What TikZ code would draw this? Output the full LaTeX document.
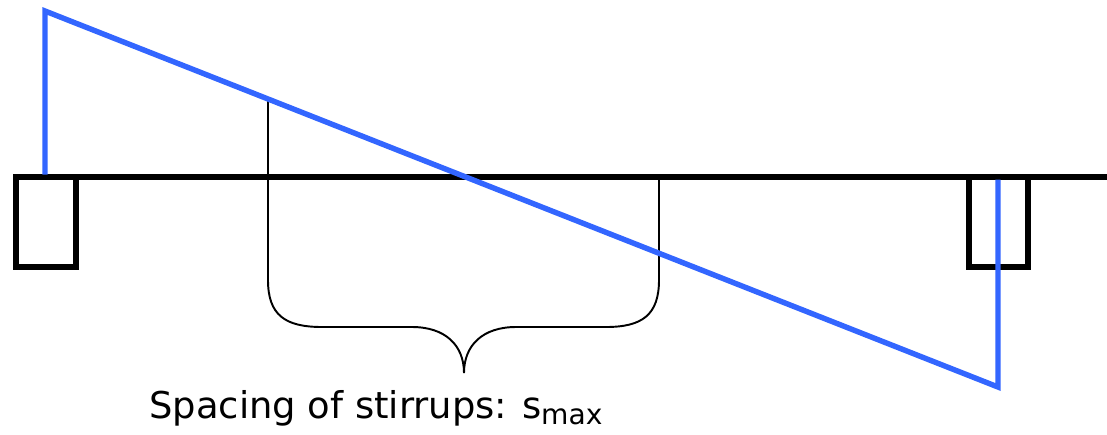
\documentclass[tikz,border=0pt]{standalone}
\usepackage{fontspec}
\setmainfont{DejaVu Sans}
\usetikzlibrary{positioning,calc}
\definecolor{ShearBlue}{RGB}{51,102,255}
\tikzset{beam/.style={draw=black,line width=3pt}, support/.style={draw=black,line width=3pt}, shear/.style={draw=ShearBlue,line width=3.1pt,line join=miter}, brace/.style={draw=black,line width=1.1pt}}

\begin{document}
\begin{tikzpicture}[x=0.02cm,y=-0.02cm]
\useasboundingbox (0,0) rectangle (1107,434);
% beam and supports
\coordinate (bl) at (14,177);
\coordinate (br) at (1107,177);
\draw[beam] (bl) -- (br);
\draw[support] (16,177) rectangle (76,267);
\draw[support] (969,177) rectangle (1028,267);
% brace
\coordinate (ba) at (268,99);
\coordinate (bb) at (659,177);
\coordinate (tip) at (464,373);
\draw[brace] (ba) -- (268,280) .. controls (268,315) and (285,327) .. (322,327) -- (412,327) .. controls (445,327) and (464,345) .. (tip);
\draw[brace] (bb) -- (659,280) .. controls (659,315) and (642,327) .. (606,327) -- (516,327) .. controls (483,327) and (464,345) .. (tip);
% shear line
\coordinate (sa) at (45,174.5);
\coordinate (sb) at (45,11);
\coordinate (sc) at (998,387);
\coordinate (sd) at (998,179.5);
\draw[shear] (sa) -- (sb) -- (sc) -- (sd);
\node[font=\fontsize{21}{24}\selectfont,inner sep=0pt,anchor=base west] (lbl) at (149,418) {Spacing of stirrups:\hspace{0.4em}s\raisebox{-3.5pt}{\fontsize{16}{18}\selectfont max}};
\end{tikzpicture}
\end{document}
